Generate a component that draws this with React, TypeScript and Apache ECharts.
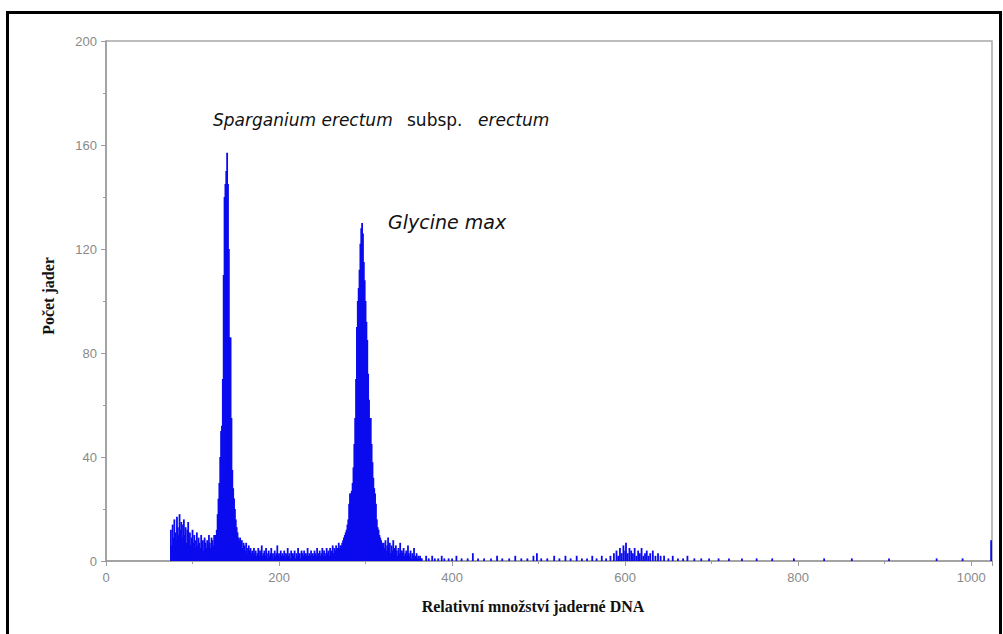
import React, { useEffect, useRef } from "react";
import * as echarts from "echarts";

// Channel histogram of relative nuclear DNA content
const xTickLabels = ["0", "200", "400", "600", "800", "1000"];
const yTickLabels = ["0", "40", "80", "120", "160", "200"];

// debris / noise before first peak, channels 75..128
const noiseAStart = 75;
const noiseA = [12, 6, 14, 9, 16, 11, 8, 17, 13, 10, 18, 12, 15, 9, 14, 16, 10, 13, 7, 12, 15, 8, 11, 6, 9, 12, 7, 10, 5, 8, 11, 6, 9, 7, 5, 10, 6, 8, 4, 9, 7, 5, 8, 6, 10, 7, 5, 9, 8, 6, 10, 8, 10, 12];

// Sparganium erectum peak, channels 129..154
const peak1Start = 129;
const peak1 = [18, 24, 30, 40, 50, 52, 70, 110, 140, 145, 150, 157, 145, 120, 86, 86, 55, 35, 28, 24, 20, 16, 13, 11, 9, 8];

// background between peaks, channels 155..271
const noiseBStart = 155;
const noiseB = [9, 6, 8, 5, 7, 6, 4, 7, 5, 3, 6, 4, 5, 3, 4, 2, 5, 3, 4, 2, 3, 5, 2, 4, 3, 6, 2, 3, 4, 2, 5, 3, 1, 4, 2, 3, 5, 2, 3, 1, 4, 2, 3, 6, 2, 3, 1, 4, 2, 3, 2, 4, 1, 3, 2, 5, 2, 3, 1, 4, 2, 3, 2, 4, 1, 3, 2, 5, 2, 3, 1, 4, 3, 2, 4, 1, 3, 2, 5, 2, 3, 2, 4, 1, 3, 2, 4, 3, 2, 5, 2, 3, 4, 2, 3, 5, 2, 4, 3, 2, 5, 3, 4, 2, 5, 3, 4, 6, 3, 5, 4, 6, 4, 5, 7, 5, 6];

// Glycine max peak, channels 272..320
const peak2Start = 272;
const peak2 = [6, 7, 8, 9, 10, 11, 12, 14, 16, 22, 26, 26, 27, 30, 36, 45, 55, 70, 90, 100, 105, 112, 122, 128, 130, 126, 115, 108, 100, 92, 85, 72, 62, 55, 55, 45, 38, 32, 28, 26, 22, 16, 13, 12, 10, 9, 8, 7, 6];

// tail after second peak, channels 321..365
const noiseCStart = 321;
const noiseC = [7, 5, 8, 4, 6, 9, 5, 7, 3, 6, 4, 8, 5, 3, 6, 4, 2, 5, 3, 7, 2, 4, 3, 5, 2, 3, 4, 2, 6, 3, 2, 4, 1, 3, 2, 5, 1, 2, 3, 1, 2, 1, 2, 1, 1];

// sparse counts further right
const tailChannels = [370, 373, 377, 380, 384, 388, 391, 396, 400, 405, 411, 418, 424, 430, 437, 445, 452, 458, 466, 473, 480, 487, 494, 498, 503, 510, 518, 524, 531, 537, 544, 550, 556, 562, 567, 573, 578, 583, 587, 590, 592, 594, 596, 598, 600, 601, 603, 605, 607, 609, 611, 613, 615, 617, 619, 621, 623, 625, 627, 629, 632, 635, 638, 641, 645, 650, 655, 661, 667, 672, 680, 688, 697, 708, 720, 735, 752, 770, 795, 830, 862, 905, 960, 990, 1023];
const tailCounts = [2, 1, 2, 1, 1, 2, 1, 1, 1, 2, 1, 1, 3, 1, 1, 1, 2, 1, 1, 2, 1, 1, 2, 3, 1, 1, 2, 1, 2, 1, 2, 1, 1, 2, 1, 2, 1, 2, 3, 4, 2, 5, 3, 6, 4, 7, 3, 5, 4, 3, 5, 2, 4, 3, 5, 2, 3, 4, 2, 3, 4, 2, 3, 2, 2, 1, 2, 1, 1, 2, 1, 1, 1, 1, 1, 1, 1, 1, 1, 1, 1, 1, 1, 1, 8];

function buildData(): [number, number][] {
  const out: [number, number][] = [];
  const segs: [number, number[]][] = [
    [noiseAStart, noiseA],
    [peak1Start, peak1],
    [noiseBStart, noiseB],
    [peak2Start, peak2],
    [noiseCStart, noiseC],
  ];
  for (const [start, arr] of segs) {
    arr.forEach((v, i) => out.push([start + i, v]));
  }
  tailChannels.forEach((c, i) => out.push([c, tailCounts[i]]));
  return out;
}

export default function App() {
  const ref = useRef<HTMLDivElement>(null);
  useEffect(() => {
    if (!ref.current) return;
    const chart = echarts.init(ref.current, null, { renderer: "svg" });
    const axisGray = "#9c9c9c";
    const labelGray = "#8a8a8a";
    const annot = { fontStyle: "italic", fontSize: 17, fontFamily: "DejaVu Sans", fill: "#111" };
    chart.setOption({
      animation: false,
      backgroundColor: "#ffffff",
      grid: {
        left: 106,
        top: 41,
        right: 11,
        bottom: 73,
        show: true,
        borderColor: "#a8a8a8",
        borderWidth: 1.5,
        backgroundColor: "transparent",
      },
      xAxis: {
        type: "value",
        min: 0,
        max: 1024,
        interval: 200,
        axisLine: { show: true, onZero: false, lineStyle: { color: axisGray, width: 1.5 } },
        axisTick: { show: true, length: 5, lineStyle: { color: axisGray } },
        minorTick: { show: true, splitNumber: 2, length: 3, lineStyle: { color: axisGray } },
        splitLine: { show: false },
        axisLabel: {
          color: labelGray,
          fontSize: 13,
          fontFamily: "Liberation Sans",
          margin: 10,
          formatter: (v: number) => (xTickLabels.includes(String(v)) ? String(v) : ""),
        },
      },
      yAxis: {
        type: "value",
        min: 0,
        max: 200,
        interval: 40,
        axisLine: { show: true, lineStyle: { color: axisGray, width: 1.5 } },
        axisTick: { show: true, length: 5, lineStyle: { color: axisGray } },
        minorTick: { show: true, splitNumber: 2, length: 3, lineStyle: { color: axisGray } },
        splitLine: { show: false },
        axisLabel: {
          color: labelGray,
          fontSize: 13,
          fontFamily: "Liberation Sans",
          margin: 9,
          formatter: (v: number) => (yTickLabels.includes(String(v)) ? String(v) : ""),
        },
      },
      series: [
        {
          type: "bar",
          data: buildData(),
          barWidth: 1.8,
          itemStyle: { color: "#0b0bee" },
          emphasis: { disabled: true },
          clip: true,
        },
      ],
      graphic: [
        {
          type: "rect",
          shape: { x: 7.5, y: 12.5, width: 993, height: 640 },
          style: { fill: "none", stroke: "#000", lineWidth: 3 },
          z: 100,
        },
        {
          type: "text",
          x: 533,
          y: 606,
          style: {
            text: "Relativní množství jaderné DNA",
            fontFamily: "Liberation Serif",
            fontWeight: "bold",
            fontSize: 16,
            fill: "#111",
            align: "center",
            verticalAlign: "middle",
          },
        },
        {
          type: "text",
          x: 48,
          y: 296,
          rotation: Math.PI / 2,
          style: {
            text: "Počet jader",
            fontFamily: "Liberation Serif",
            fontWeight: "bold",
            fontSize: 16,
            fill: "#111",
            align: "center",
            verticalAlign: "middle",
          },
        },
        {
          type: "text",
          x: 213,
          y: 120,
          style: { ...annot, text: "Sparganium erectum", verticalAlign: "middle" },
        },
        {
          type: "text",
          x: 407,
          y: 120,
          style: { ...annot, fontStyle: "normal", text: "subsp.", verticalAlign: "middle" },
        },
        {
          type: "text",
          x: 478,
          y: 120,
          style: { ...annot, text: "erectum", verticalAlign: "middle" },
        },
        {
          type: "text",
          x: 388,
          y: 222,
          style: { ...annot, fontSize: 19, text: "Glycine max", verticalAlign: "middle" },
        },
      ],
    });
    return () => chart.dispose();
  }, []);
  return (
    <div
      ref={ref}
      style={{ position: "absolute", left: 0, top: 0, width: 1003, height: 634 }}
    />
  );
}
